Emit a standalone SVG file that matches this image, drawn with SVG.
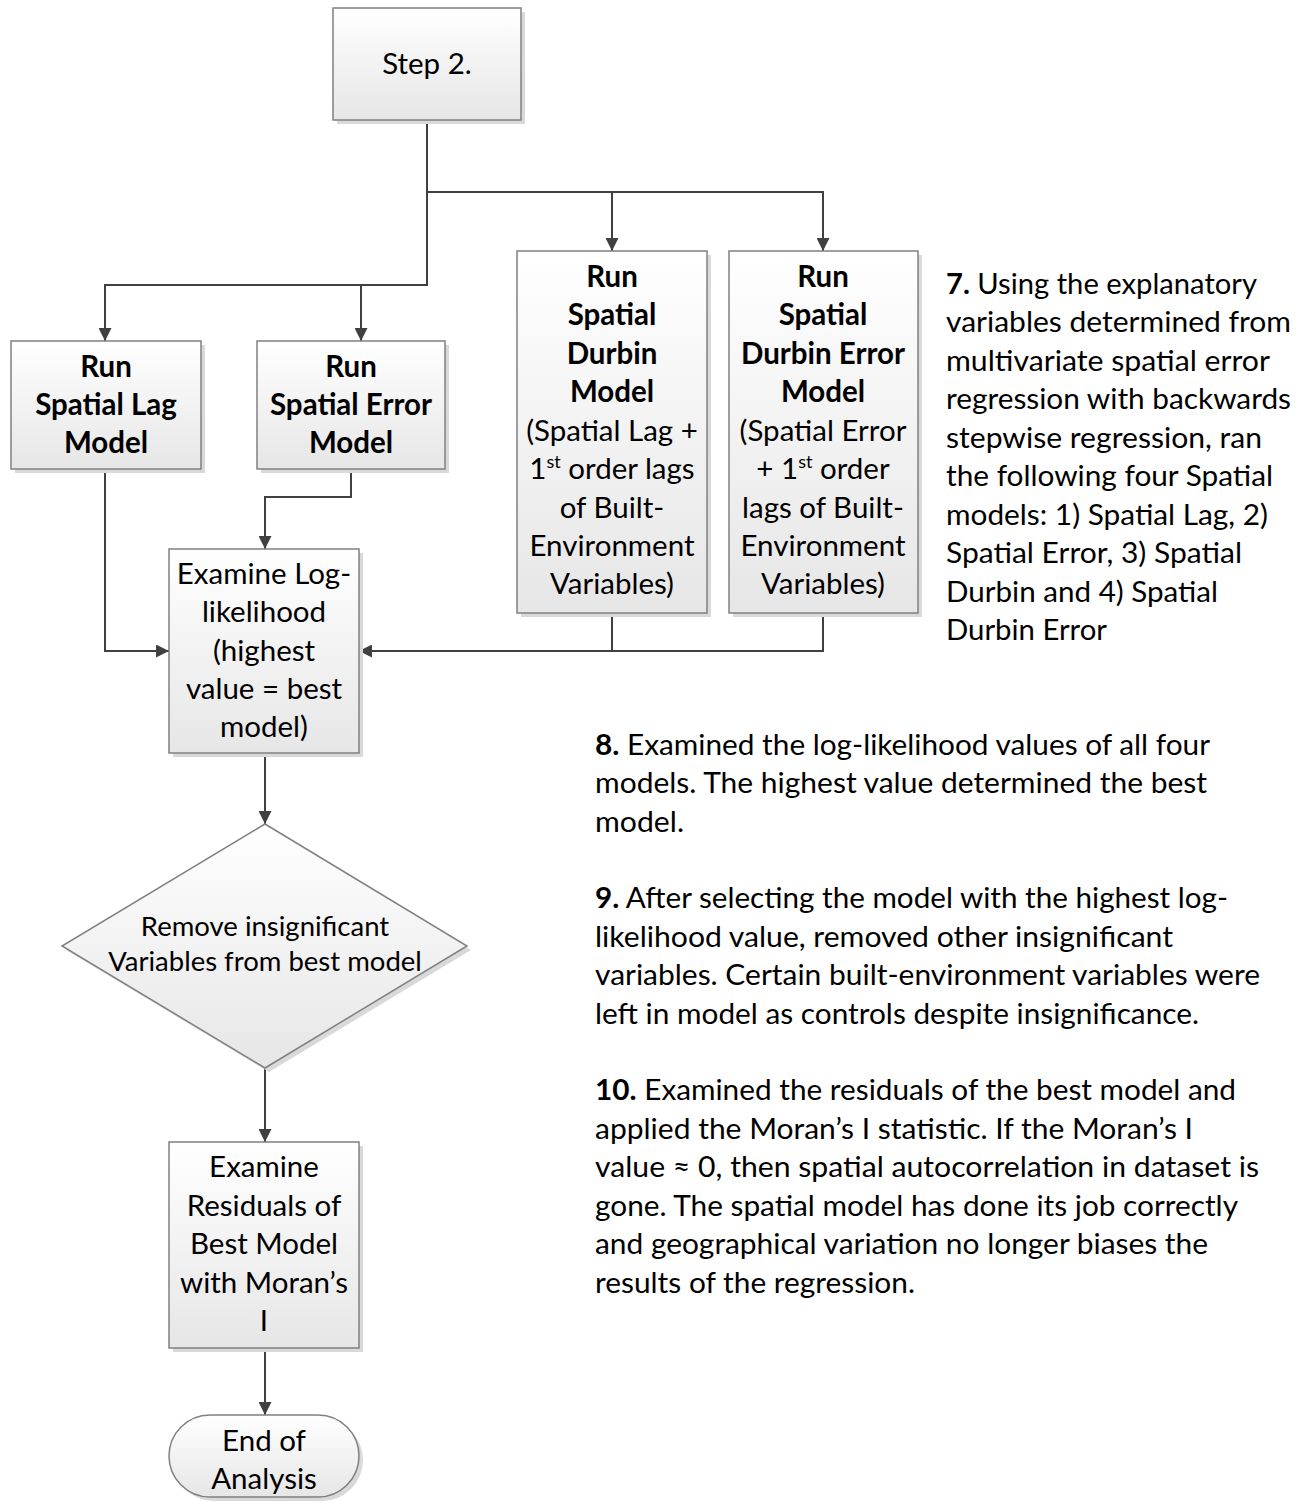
<svg xmlns="http://www.w3.org/2000/svg" width="1310" height="1508" viewBox="0 0 1310 1508">
<defs>
<linearGradient id="g" x1="0" y1="0" x2="0" y2="1">
<stop offset="0" stop-color="#ffffff"/>
<stop offset="1" stop-color="#e6e6e6"/>
</linearGradient>
<marker id="arr" viewBox="0 0 13 13" refX="13" refY="6.5" markerWidth="13" markerHeight="13" markerUnits="userSpaceOnUse" orient="auto">
<path d="M0,0 L13,6.5 L0,13 Z" fill="#404040"/>
</marker>
</defs>
<style>
.box{fill:url(#g);stroke:#808080;stroke-width:1.5}
.sh{fill:#d9d9d9}
.t{font-family:Lato,"Open Sans",sans-serif;font-size:29.5px;fill:#000;text-anchor:middle}
.b{font-weight:bold}
.p{font-family:Lato,"Open Sans",sans-serif;font-size:28.5px;fill:#000}
.c{fill:none;stroke:#404040;stroke-width:2}
</style>
<rect width="1310" height="1508" fill="#fff"/>

<g id="connectors">
<path class="c" d="M427,120 V192 H612 V251" marker-end="url(#arr)"/>
<path class="c" d="M612,192 H823 V251" marker-end="url(#arr)"/>
<path class="c" d="M427,192 V285 H105 V341" marker-end="url(#arr)"/>
<path class="c" d="M361,285 V341" marker-end="url(#arr)"/>
<path class="c" d="M105,469 V651 H169" marker-end="url(#arr)"/>
<path class="c" d="M351,469 V497 H265 V549" marker-end="url(#arr)"/>
<path class="c" d="M823,613 V651 H359" marker-end="url(#arr)"/>
<path class="c" d="M612,613 V651"/>
<path class="c" d="M265,753 V824" marker-end="url(#arr)"/>
<path class="c" d="M265,1068 V1142" marker-end="url(#arr)"/>
<path class="c" d="M265,1348 V1415" marker-end="url(#arr)"/>
</g>

<g id="step2">
<rect class="sh" x="337" y="12" width="188" height="112"/>
<rect class="box" x="333" y="8" width="188" height="112"/>
<text class="t" x="427" y="74">Step 2.</text>
</g>

<g id="lag">
<rect class="sh" x="15" y="345" width="190" height="128"/>
<rect class="box" x="11" y="341" width="190" height="128"/>
<text class="t b" x="106" y="377">Run</text>
<text class="t b" x="106" y="415">Spatial Lag</text>
<text class="t b" x="106" y="453">Model</text>
</g>

<g id="error">
<rect class="sh" x="261" y="345" width="188" height="128"/>
<rect class="box" x="257" y="341" width="188" height="128"/>
<text class="t b" x="351" y="377">Run</text>
<text class="t b" x="351" y="415">Spatial Error</text>
<text class="t b" x="351" y="453">Model</text>
</g>

<g id="durbin">
<rect class="sh" x="521" y="255" width="190" height="362"/>
<rect class="box" x="517" y="251" width="190" height="362"/>
<text class="t b" x="612" y="287">Run</text>
<text class="t b" x="612" y="325">Spatial</text>
<text class="t b" x="612" y="364">Durbin</text>
<text class="t b" x="612" y="402">Model</text>
<text class="t" x="612" y="441">(Spatial Lag +</text>
<text class="t" x="612" y="479">1<tspan dy="-11" font-size="18">st</tspan><tspan dy="11"> order lags</tspan></text>
<text class="t" x="612" y="518">of Built-</text>
<text class="t" x="612" y="556">Environment</text>
<text class="t" x="612" y="594">Variables)</text>
</g>

<g id="durbinerror">
<rect class="sh" x="733" y="255" width="189" height="362"/>
<rect class="box" x="729" y="251" width="189" height="362"/>
<text class="t b" x="823" y="287">Run</text>
<text class="t b" x="823" y="325">Spatial</text>
<text class="t b" x="823" y="364">Durbin Error</text>
<text class="t b" x="823" y="402">Model</text>
<text class="t" x="823" y="441">(Spatial Error</text>
<text class="t" x="823" y="479">+ 1<tspan dy="-11" font-size="18">st</tspan><tspan dy="11"> order</tspan></text>
<text class="t" x="823" y="518">lags of Built-</text>
<text class="t" x="823" y="556">Environment</text>
<text class="t" x="823" y="594">Variables)</text>
</g>

<g id="examine">
<rect class="sh" x="173" y="553" width="190" height="204"/>
<rect class="box" x="169" y="549" width="190" height="204"/>
<text class="t" x="264" y="584">Examine Log-</text>
<text class="t" x="264" y="622">likelihood</text>
<text class="t" x="264" y="661">(highest</text>
<text class="t" x="264" y="699">value = best</text>
<text class="t" x="264" y="737">model)</text>
</g>

<g id="remove">
<polygon class="sh" points="269,828 471,950 269,1072 66,950"/>
<polygon class="box" points="265,824 467,946 265,1068 62,946"/>
<text class="t" x="265" y="936" style="font-size:27.5px">Remove insignificant</text>
<text class="t" x="265" y="971" style="font-size:27.5px">Variables from best model</text>
</g>

<g id="residuals">
<rect class="sh" x="173" y="1146" width="190" height="206"/>
<rect class="box" x="169" y="1142" width="190" height="206"/>
<text class="t" x="264" y="1177">Examine</text>
<text class="t" x="264" y="1216">Residuals of</text>
<text class="t" x="264" y="1254">Best Model</text>
<text class="t" x="264" y="1293">with Moran’s</text>
<text class="t" x="264" y="1331">I</text>
</g>

<g id="end">
<rect class="sh" x="173" y="1419" width="190" height="82" rx="41" ry="41"/>
<rect class="box" x="169" y="1415" width="190" height="82" rx="41" ry="41"/>
<text class="t" x="264" y="1451">End of</text>
<text class="t" x="264" y="1489">Analysis</text>
</g>

<g id="notes">
<text class="p" x="946" y="294" textLength="311" lengthAdjust="spacingAndGlyphs"><tspan font-weight="bold">7.</tspan> Using the explanatory</text>
<text class="p" x="946" y="332" textLength="345" lengthAdjust="spacingAndGlyphs">variables determined from</text>
<text class="p" x="946" y="371" textLength="324" lengthAdjust="spacingAndGlyphs">multivariate spatial error</text>
<text class="p" x="946" y="409" textLength="345" lengthAdjust="spacingAndGlyphs">regression with backwards</text>
<text class="p" x="946" y="448" textLength="316" lengthAdjust="spacingAndGlyphs">stepwise regression, ran</text>
<text class="p" x="946" y="486" textLength="327" lengthAdjust="spacingAndGlyphs">the following four Spatial</text>
<text class="p" x="946" y="525" textLength="322" lengthAdjust="spacingAndGlyphs">models: 1) Spatial Lag, 2)</text>
<text class="p" x="946" y="563" textLength="296" lengthAdjust="spacingAndGlyphs">Spatial Error, 3) Spatial</text>
<text class="p" x="946" y="602" textLength="272" lengthAdjust="spacingAndGlyphs">Durbin and 4) Spatial</text>
<text class="p" x="946" y="640" textLength="161" lengthAdjust="spacingAndGlyphs">Durbin Error</text>

<text class="p" x="595" y="755" textLength="615" lengthAdjust="spacingAndGlyphs"><tspan font-weight="bold">8.</tspan> Examined the log-likelihood values of all four</text>
<text class="p" x="595" y="793" textLength="612" lengthAdjust="spacingAndGlyphs">models. The highest value determined the best</text>
<text class="p" x="595" y="832" textLength="89" lengthAdjust="spacingAndGlyphs">model.</text>

<text class="p" x="595" y="908" textLength="633" lengthAdjust="spacingAndGlyphs"><tspan font-weight="bold">9.</tspan> After selecting the model with the highest log-</text>
<text class="p" x="595" y="947" textLength="578" lengthAdjust="spacingAndGlyphs">likelihood value, removed other insignificant</text>
<text class="p" x="595" y="985" textLength="665" lengthAdjust="spacingAndGlyphs">variables. Certain built-environment variables were</text>
<text class="p" x="595" y="1024" textLength="604" lengthAdjust="spacingAndGlyphs">left in model as controls despite insignificance.</text>

<text class="p" x="595" y="1100" textLength="641" lengthAdjust="spacingAndGlyphs"><tspan font-weight="bold">10.</tspan> Examined the residuals of the best model and</text>
<text class="p" x="595" y="1139" textLength="598" lengthAdjust="spacingAndGlyphs">applied the Moran’s I statistic. If the Moran’s I</text>
<text class="p" x="595" y="1177" textLength="664" lengthAdjust="spacingAndGlyphs">value  ≈ 0, then spatial autocorrelation in dataset is</text>
<text class="p" x="595" y="1216" textLength="643" lengthAdjust="spacingAndGlyphs">gone. The spatial model has done its job correctly</text>
<text class="p" x="595" y="1254" textLength="613" lengthAdjust="spacingAndGlyphs">and geographical variation no longer biases the</text>
<text class="p" x="595" y="1293" textLength="320" lengthAdjust="spacingAndGlyphs">results of the regression.</text>
</g>
</svg>
